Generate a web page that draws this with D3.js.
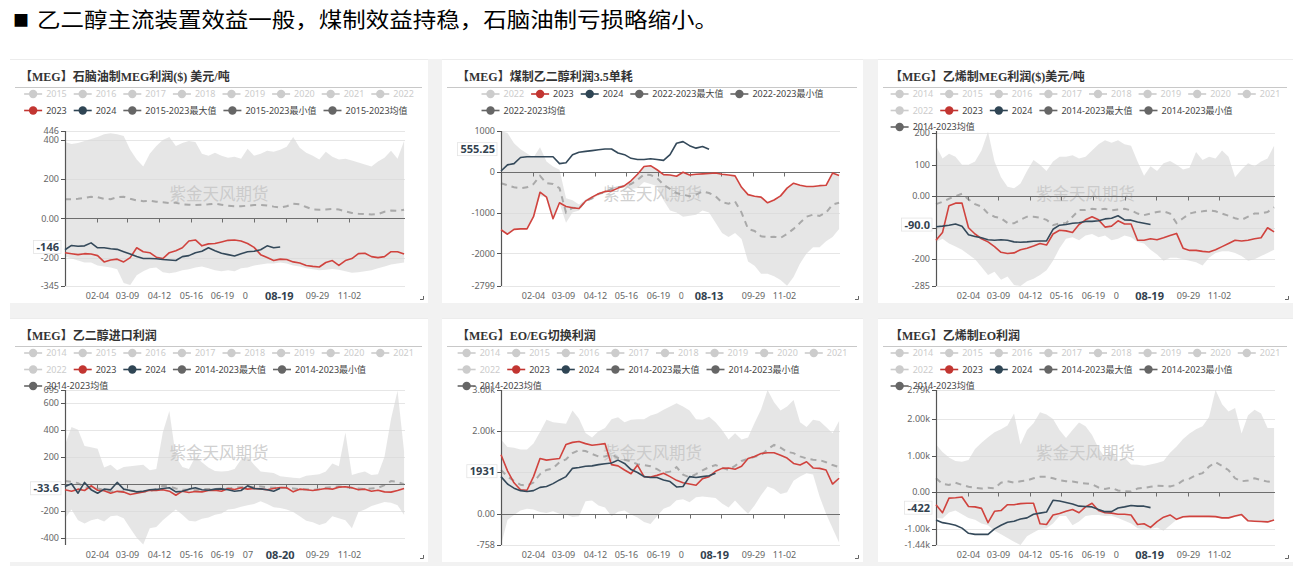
<!DOCTYPE html>
<html lang="zh-CN">
<head>
<meta charset="utf-8">
<title>MEG profit charts</title>
<script src="https://cdn.jsdelivr.net/npm/d3@7"></script>
<style>
html,body{margin:0;padding:0;background:#ffffff;overflow:hidden;}
svg{display:block;}
</style>
</head>
<body>
<svg id="chart" width="1293" height="566"></svg>
<script>
// ---------------- DATA ----------------
const headline = "乙二醇主流装置效益一般，煤制效益持稳，石脑油制亏损略缩小。";
const titles = [
  "【MEG】石脑油制MEG利润($) 美元/吨",
  "【MEG】煤制乙二醇利润3.5单耗",
  "【MEG】乙烯制MEG利润($)美元/吨",
  "【MEG】乙二醇进口利润",
  "【MEG】EO/EG切换利润",
  "【MEG】乙烯制EO利润"
];
const watermark = "紫金天风期货";
// weekly categories (MM-DD), one per week of the year
const categories = d3.range(53).map(i => d3.timeFormat("%m-%d")(d3.timeDay.offset(new Date(2023, 0, 1), 7 * i)));
const xTickLabels = ["02-04", "03-09", "04-12", "05-16", "06-19", "07-23", "08-26", "09-29", "11-02"];

const legendRows1 = [["2015","2016","2017","2018","2019","2020","2021","2022"],
                     ["2023","2024","2015-2023最大值","2015-2023最小值","2015-2023均值"]];
const legendRows2 = [["2022","2023","2024","2022-2023最大值","2022-2023最小值"],
                     ["2022-2023均值"]];
const legendRows3 = [["2014","2015","2016","2017","2018","2019","2020","2021"],
                     ["2022","2023","2024","2014-2023最大值","2014-2023最小值"],
                     ["2014-2023均值"]];
const inactiveNames = ["2014","2015","2016","2017","2018","2019","2020","2021","2022"];

const pointerDates = ["08-19", "08-13", "08-19", "08-20", "08-19", "08-19"];
const pointerValues = [-146, 555.25, -90, -33.6, 1031, -422];
const pointerTexts = ["-146", "555.25", "-90.0", "-33.6", "1931", "-422"];

// Panel 1: naphtha-based MEG profit
const p1Domain = [-345, 446];
const p1Ticks = [446, 400, 200, 0, -200, -345];
const p1TickLabels = ["446", "400", "200", "0.00", "-200", "-345"];
const p1Max = [390,380,385,395,405,415,430,435,430,420,350,300,265,330,370,400,415,370,385,395,390,330,320,335,320,310,315,305,355,320,330,345,340,350,365,415,360,335,320,300,340,315,300,305,295,285,275,265,290,310,345,305,395];
const p1Min = [-195,-205,-215,-225,-225,-240,-245,-250,-260,-330,-340,-290,-270,-255,-250,-275,-280,-275,-265,-260,-250,-245,-255,-265,-270,-265,-270,-255,-250,-240,-235,-230,-230,-225,-230,-240,-245,-255,-260,-265,-262,-258,-262,-270,-278,-275,-270,-265,-255,-245,-235,-230,-225];
const p1Mean = [98,98,100,105,110,108,100,98,108,110,100,92,88,90,85,82,78,80,72,70,68,70,72,75,70,65,62,62,65,68,68,66,60,55,62,75,72,58,46,44,46,48,45,36,28,24,22,20,22,34,40,38,44];
const p1Y2023 = [-175,-180,-185,-180,-182,-190,-222,-212,-208,-222,-200,-150,-170,-175,-198,-205,-175,-165,-150,-115,-110,-140,-130,-128,-120,-112,-110,-115,-128,-148,-185,-200,-215,-208,-210,-222,-228,-240,-245,-248,-225,-215,-240,-215,-205,-180,-178,-195,-200,-195,-170,-170,-182];
const p1Y2024 = [-160,-138,-142,-140,-125,-150,-150,-155,-158,-170,-182,-195,-205,-205,-206,-210,-212,-215,-195,-190,-175,-168,-150,-165,-178,-185,-192,-180,-170,-168,-160,-140,-150,-146];

// Panel 2: coal-based MEG profit
const p2Domain = [-2799, 1000];
const p2Ticks = [1000, 0, -1000, -2000, -2799];
const p2TickLabels = ["1000", "0", "-1000", "-2000", "-2799"];
const p2Max = [1000,950,700,550,450,350,600,250,130,50,-650,-700,-800,-680,-600,-540,-480,-370,-360,-340,-220,-60,130,150,50,-70,-80,-110,-10,-80,-60,-50,-40,-30,-60,-80,-100,-380,-560,-600,-620,-760,-690,-590,-400,-280,-330,-360,-360,-340,-330,-30,-90];
const p2Min = [-1420,-1530,-1410,-1400,-1400,-1100,-600,-620,-1150,-780,-1250,-1000,-950,-730,-680,-560,-520,-420,-400,-380,-420,-400,-250,-300,-350,-700,-950,-1000,-1100,-1080,-1050,-950,-1000,-1250,-1500,-1600,-1500,-1650,-2200,-2300,-2500,-2500,-2560,-2650,-2790,-2580,-2250,-2000,-1850,-1850,-1700,-1600,-1400];
const p2Mean = [-280,-330,-380,-400,-380,-300,-100,-280,-300,-400,-1000,-880,-900,-720,-650,-540,-500,-420,-380,-350,-300,-200,-60,-80,-150,-320,-420,-520,-560,-600,-560,-480,-520,-600,-750,-780,-730,-1000,-1400,-1450,-1580,-1600,-1590,-1620,-1520,-1400,-1250,-1100,-1050,-1080,-1000,-800,-760];
const p2Y2023 = [-1420,-1530,-1410,-1400,-1400,-1100,-500,-620,-1150,-760,-850,-880,-900,-720,-620,-540,-480,-470,-400,-340,-220,-60,130,150,50,-70,-80,-110,-10,-80,-60,-50,-40,-30,-60,-80,-100,-380,-560,-600,-620,-760,-690,-590,-400,-280,-330,-360,-360,-340,-330,-30,-90];
const p2Y2024 = [20,170,200,350,370,370,370,370,370,200,220,420,480,500,520,540,560,560,460,420,330,300,300,320,300,280,420,700,740,640,580,620,555];

// Panel 3: ethylene-based MEG profit
const p3Domain = [-285, 207];
const p3Ticks = [200, 100, 0, -100, -200, -285];
const p3TickLabels = ["200", "100", "0.00", "-100", "-200", "-285"];
const p3Max = [160,120,135,125,100,100,110,145,205,110,60,30,25,40,80,115,100,80,110,125,125,130,120,125,145,165,178,170,178,165,160,110,65,95,80,105,112,100,85,90,140,115,125,120,145,125,60,85,105,95,110,120,160];
const p3Min = [-145,-135,-150,-160,-170,-185,-200,-225,-250,-240,-265,-255,-282,-285,-270,-262,-250,-235,-205,-165,-135,-130,-140,-125,-120,-130,-125,-140,-135,-125,-130,-145,-150,-170,-185,-205,-195,-195,-200,-205,-210,-220,-195,-180,-175,-175,-180,-190,-205,-200,-190,-180,-170];
const p3Mean = [-25,-18,-8,0,8,-10,-25,-33,-55,-65,-70,-85,-86,-75,-65,-65,-68,-75,-92,-86,-86,-65,-44,-44,-40,-42,-40,-45,-42,-40,-45,-55,-60,-55,-50,-48,-55,-85,-70,-55,-50,-48,-45,-48,-55,-62,-70,-75,-65,-55,-55,-50,-35];
const p3Y2023 = [-140,-115,-30,-22,-22,-100,-120,-135,-145,-160,-178,-182,-180,-170,-165,-158,-150,-155,-120,-108,-110,-115,-90,-75,-65,-75,-98,-95,-78,-88,-88,-140,-140,-135,-138,-132,-125,-118,-165,-172,-172,-175,-177,-170,-160,-150,-140,-142,-140,-135,-132,-100,-113];
const p3Y2024 = [-97,-95,-92,-88,-95,-122,-128,-132,-138,-140,-138,-140,-145,-146,-145,-143,-142,-142,-105,-92,-90,-86,-84,-80,-80,-78,-72,-70,-62,-75,-76,-82,-86,-90];

// Panel 4: MEG import profit
const p4Domain = [-454, 695];
const p4Ticks = [695, 600, 400, 200, 0, -200, -400];
const p4TickLabels = ["695", "600", "400", "200", "0", "-200", "-400"];
const p4Max = [290,420,400,280,270,260,120,140,100,125,130,135,140,100,110,380,540,200,125,110,200,160,120,95,90,95,110,180,200,140,90,85,80,55,50,45,40,60,65,70,90,150,130,380,65,80,90,65,70,200,480,690,240];
const p4Min = [-255,-190,-270,-295,-270,-260,-280,-240,-235,-255,-330,-400,-450,-330,-320,-270,-230,-190,-230,-275,-280,-260,-250,-230,-220,-190,-185,-170,-160,-150,-130,-150,-175,-180,-190,-210,-240,-275,-285,-305,-290,-240,-255,-270,-330,-210,-190,-165,-150,-135,-140,-160,-230];
const p4Mean = [20,15,5,-25,-35,-35,-45,-55,-60,-55,-50,-55,-60,-55,-40,-15,-20,-35,-45,-45,-48,-40,-38,-40,-35,-35,-30,-25,-20,-25,-20,-25,-30,-30,-30,-35,-40,-40,-45,-40,-30,-25,-20,-25,-30,-35,-40,-35,-30,-10,20,15,-5];
const p4Y2023 = [-45,-55,-40,-50,-15,-48,-52,-70,-55,-62,-80,-70,-60,-48,-50,-45,-55,-85,-55,-65,-58,-60,-50,-48,-55,-35,-42,-30,-40,-35,-38,-45,-35,-28,-30,-60,-40,-45,-50,-42,-35,-40,-25,-22,-30,-45,-40,-55,-48,-60,-62,-50,-35];
const p4Y2024 = [-20,0,-70,10,-45,-70,-40,-45,10,-40,-50,-60,-55,-45,-42,-35,-30,-60,-55,-40,-30,-45,-48,-40,-38,-45,-55,-50,-15,-35,-38,-45,-55,-34];

// Panel 5: EO/EG switching profit
const p5Domain = [-758, 3000];
const p5Ticks = [3000, 2000, 1000, 0, -758];
const p5TickLabels = ["3.00k", "2.00k", "1.00k", "0.00", "-758"];
const p5Max = [1800,1620,1600,1560,1560,1700,1980,2280,2220,2200,2180,2500,2300,1960,1850,2000,2080,2290,2340,2220,2280,2290,2290,2380,2430,2520,2600,2680,2600,2500,2290,2280,2350,2220,2030,1800,1950,1800,1850,2200,2530,3000,2700,2500,2600,2760,2220,2100,2280,2250,2100,1950,2250];
const p5Min = [-758,-150,-30,80,120,100,40,20,60,0,-20,-80,-60,300,320,200,150,-60,50,80,-20,-90,-200,-250,-60,120,180,330,350,280,400,420,400,380,250,150,320,150,0,200,450,660,600,480,520,800,900,980,950,420,0,-350,-700];
const p5Mean = [1060,900,800,700,680,760,960,1060,1100,1250,1320,1470,1540,1520,1450,1390,1390,1440,1350,1310,1270,1200,1180,1150,1080,990,1020,1130,950,880,960,1050,1130,1180,1120,1060,1160,1280,1330,1380,1420,1560,1670,1600,1500,1470,1390,1340,1310,1300,1250,1180,1130];
const p5Y2023 = [1430,1040,750,580,570,900,1340,1300,1320,1340,1680,1730,1750,1700,1660,1680,1700,1190,1160,1060,970,1180,900,890,930,980,900,810,750,720,690,850,900,1030,1100,1110,1080,1150,1340,1390,1460,1480,1480,1420,1350,1220,1180,1260,1110,1100,1060,720,860];
const p5Y2024 = [900,720,620,560,540,560,640,660,730,820,900,1100,1120,1150,1160,1190,1210,1230,1300,1220,1070,1000,900,880,880,820,780,650,660,900,880,900,920,980];

// Panel 6: ethylene-based EO profit
const p6Domain = [-1440, 2790];
const p6Ticks = [2790, 2000, 1000, 0, -1000, -1440];
const p6TickLabels = ["2.79k", "2.00k", "1.00k", "0.00", "-1.00k", "-1.44k"];
const p6Max = [1300,1100,950,850,830,880,1180,1350,1500,1640,1720,1820,2150,1300,1700,1880,2180,2120,2000,1700,1480,1700,1900,1800,1560,1200,950,1150,850,950,760,750,720,760,800,850,1080,1250,1450,1600,1720,1800,2050,2790,2400,2200,2300,1600,2100,2250,2150,1750,1750];
const p6Min = [-700,-720,-550,-500,-600,-700,-750,-850,-900,-1050,-1150,-1250,-1350,-1440,-1200,-1100,-1000,-980,-850,-650,-650,-900,-800,-650,-620,-620,-650,-640,-700,-780,-850,-980,-1000,-1000,-960,-1050,-900,-750,-700,-680,-680,-680,-690,-680,-720,-720,-680,-650,-800,-810,-820,-830,-780];
const p6Mean = [380,230,200,260,200,150,120,100,120,110,260,300,260,300,320,380,420,420,380,330,300,290,260,240,220,130,90,120,50,30,20,100,120,150,180,170,160,200,320,370,470,520,700,820,720,600,380,300,320,380,330,290,270];
const p6Y2023 = [-340,-560,-160,-150,-130,-390,-400,-440,-830,-520,-500,-340,-340,-310,-300,-300,-860,-880,-620,-580,-520,-470,-560,-400,-300,-500,-560,-570,-600,-600,-620,-880,-860,-960,-800,-680,-620,-740,-670,-660,-660,-660,-660,-665,-700,-700,-650,-610,-780,-790,-800,-810,-760];
const p6Y2024 = [-760,-830,-860,-900,-980,-1120,-1150,-1150,-1150,-1000,-900,-820,-790,-730,-700,-600,-570,-540,-220,-240,-280,-320,-380,-390,-400,-470,-530,-530,-430,-400,-360,-380,-380,-420];

// ---------------- PANEL TABLE ----------------
const panels = [
  {domain:p1Domain, ticks:p1Ticks, labels:p1TickLabels, max:p1Max, min:p1Min, mean:p1Mean, s23:p1Y2023, s24:p1Y2024, legend:legendRows1},
  {domain:p2Domain, ticks:p2Ticks, labels:p2TickLabels, max:p2Max, min:p2Min, mean:p2Mean, s23:p2Y2023, s24:p2Y2024, legend:legendRows2},
  {domain:p3Domain, ticks:p3Ticks, labels:p3TickLabels, max:p3Max, min:p3Min, mean:p3Mean, s23:p3Y2023, s24:p3Y2024, legend:legendRows3},
  {domain:p4Domain, ticks:p4Ticks, labels:p4TickLabels, max:p4Max, min:p4Min, mean:p4Mean, s23:p4Y2023, s24:p4Y2024, legend:legendRows3},
  {domain:p5Domain, ticks:p5Ticks, labels:p5TickLabels, max:p5Max, min:p5Min, mean:p5Mean, s23:p5Y2023, s24:p5Y2024, legend:legendRows3},
  {domain:p6Domain, ticks:p6Ticks, labels:p6TickLabels, max:p6Max, min:p6Min, mean:p6Mean, s23:p6Y2023, s24:p6Y2024, legend:legendRows3}
];

// ---------------- LAYOUT ----------------
const W = 1293, H = 566;
const colX = [10, 442, 878], colW = [418, 421, 415];
const plotL = [65, 501, 936], plotR = [405, 840, 1275];
const titleOff = [10, 15, 12];
const rowY = [59, 318], rowH = 244;
const plotT = [131, 390], plotB = [286, 545];

const C23 = "#d0433e", C24 = "#34495a", CMEAN = "#a9a9a9", CBAND = "#d9d9d9";
const LEG_ACTIVE_TEXT = "#444", LEG_INACTIVE = "#cccccc";
const FONT = "'Noto Sans', 'Noto Sans CJK SC', sans-serif";
const TFONT = "'Liberation Serif', 'Noto Sans CJK SC', serif";

const svg = d3.select("#chart");
const parseMD = s => { const p = s.split("-").map(Number); return new Date(2023, p[0] - 1, p[1]); };
const catDates = categories.map(parseMD);

// background gaps
svg.append("rect").attr("x", 0).attr("y", 0).attr("width", W).attr("height", H).attr("fill", "#fff");
svg.append("rect").attr("x", 10).attr("y", 59).attr("width", W - 10).attr("height", H - 59).attr("fill", "#f2f2f2");

// headline
svg.append("text").attr("x", 13).attr("y", 26).attr("font-family", "'Noto Sans CJK SC', sans-serif")
  .attr("font-size", 16).attr("fill", "#000").text("■");
svg.append("text").attr("x", 37).attr("y", 27).attr("font-family", "'Noto Sans CJK SC', sans-serif")
  .attr("font-size", 21).attr("fill", "#000").attr("textLength", 681).attr("lengthAdjust", "spacingAndGlyphs")
  .text(headline);

function legendColor(name) {
  if (inactiveNames.includes(name)) return LEG_INACTIVE;
  if (name === "2023") return "#c23531";
  if (name === "2024") return "#2f4554";
  return "#666";
}

panels.forEach((p, k) => {
  const c = k % 3, r = Math.floor(k / 3);
  const px = colX[c], pw = colW[c], py = rowY[r];
  const X0 = plotL[c], X1 = plotR[c], T = plotT[r], B = plotB[r];
  const g = svg.append("g");

  // panel
  g.append("rect").attr("x", px).attr("y", py).attr("width", pw).attr("height", rowH).attr("fill", "#fff");
  g.append("line").attr("x1", px).attr("x2", px + pw).attr("y1", py + 0.5).attr("y2", py + 0.5).attr("stroke", "#ececec");

  // title
  g.append("text").attr("x", px + titleOff[c]).attr("y", py + 22).attr("font-family", TFONT)
    .attr("font-weight", "bold").attr("font-size", 12).attr("fill", "#333").text(titles[k]);
  g.append("line").attr("x1", px + 5).attr("x2", px + pw - 6).attr("y1", py + 28.5).attr("y2", py + 28.5)
    .attr("stroke", "#c8c8c8").attr("stroke-width", 1);

  const x = d3.scaleTime().domain([new Date(2023, 0, 1), new Date(2024, 0, 1)]).range([X0, X1]);
  const y = d3.scaleLinear().domain(p.domain).range([B, T]);
  const ptrY = y(pointerValues[k]);

  // grid lines
  p.ticks.forEach(v => {
    if (v === 0) return;
    g.append("line").attr("x1", X0).attr("x2", X1).attr("y1", Math.round(y(v)) + 0.5).attr("y2", Math.round(y(v)) + 0.5)
      .attr("stroke", "#e6e6e6").attr("stroke-width", 1);
  });

  // band
  const area = d3.area().x((d, i) => x(catDates[i])).y0((d, i) => y(p.min[i])).y1((d, i) => y(p.max[i]));
  g.append("path").datum(p.max).attr("d", area).attr("fill", CBAND).attr("fill-opacity", 0.65);

  // watermark
  g.append("text").attr("x", px + pw / 2).attr("y", py + 141).attr("text-anchor", "middle")
    .attr("font-family", "'Noto Sans CJK SC', sans-serif").attr("font-size", 16.5).attr("fill", "#c4c4c4")
    .attr("fill-opacity", 0.8).text(watermark);

  // mean dashed
  const line = arr => d3.line().x((d, i) => x(catDates[i])).y(d => y(d))(arr);
  g.append("path").attr("d", line(p.mean)).attr("fill", "none").attr("stroke", CMEAN)
    .attr("stroke-width", 2).attr("stroke-dasharray", "6,5");

  // axes
  const y0 = Math.round(y(0)) + 0.5;
  g.append("line").attr("x1", X0).attr("x2", X1).attr("y1", y0).attr("y2", y0).attr("stroke", "#6e6e6e").attr("stroke-width", 1.2);
  g.append("line").attr("x1", X0 + 0.5).attr("x2", X0 + 0.5).attr("y1", T).attr("y2", B).attr("stroke", "#555").attr("stroke-width", 1.2);
  p.ticks.forEach((v, i) => {
    const yy = Math.round(y(v)) + 0.5;
    g.append("line").attr("x1", X0 - 4).attr("x2", X0).attr("y1", yy).attr("y2", yy).attr("stroke", "#555");
    if (Math.abs(y(v) - ptrY) < 9) return; // hidden under the axis-pointer label
    g.append("text").attr("x", X0 - 6).attr("y", y(v) + 3.2).attr("text-anchor", "end")
      .attr("font-family", FONT).attr("font-size", 9).attr("fill", "#666").text(p.labels[i]);
  });

  // x pointer label geometry
  const pxX = x(parseMD(pointerDates[k]));
  const probe = g.append("text").attr("font-family", FONT).attr("font-weight", "bold").attr("font-size", 11).text(pointerDates[k]);
  const xw = probe.node().getComputedTextLength();
  probe.remove();
  const boxL = pxX - xw / 2 - 11, boxR = pxX + xw / 2 + 11;

  xTickLabels.forEach(lbl => {
    const xx = Math.round(x(parseMD(lbl))) + 0.5;
    g.append("line").attr("x1", xx).attr("x2", xx).attr("y1", y0).attr("y2", y0 + 4).attr("stroke", "#6e6e6e");
    const t = g.append("text").attr("x", xx).attr("y", py + 240).attr("text-anchor", "middle")
      .attr("font-family", FONT).attr("font-size", 9).attr("fill", "#666").text(lbl);
    const w = t.node().getComputedTextLength();
    const l = xx - w / 2, rr = xx + w / 2;
    if (l >= boxL && rr <= boxR) { t.remove(); return; }          // fully covered
    if (l < boxL && rr > boxL) {                                   // partly covered: keep visible part
      t.attr("text-anchor", "start").attr("x", l);
      let s = lbl;
      while (s.length > 1 && l + t.node().getComputedTextLength() > boxL - 1) { s = s.slice(0, -1); t.text(s); }
    }
  });

  // series lines
  g.append("path").attr("d", line(p.s23)).attr("fill", "none").attr("stroke", C23).attr("stroke-width", 1.6).attr("stroke-linejoin", "round");
  g.append("path").attr("d", line(p.s24)).attr("fill", "none").attr("stroke", C24).attr("stroke-width", 1.6).attr("stroke-linejoin", "round");

  // legend
  const lg = g.append("g");
  const rowsInfo = p.legend.map((row, ri) => {
    const rg = lg.append("g");
    let cx = 0;
    row.forEach(name => {
      const col = legendColor(name);
      rg.append("line").attr("x1", cx).attr("x2", cx + 18).attr("y1", 0).attr("y2", 0).attr("stroke", col).attr("stroke-width", 1.6);
      rg.append("circle").attr("cx", cx + 9).attr("cy", 0).attr("r", 4.2).attr("fill", col);
      const t = rg.append("text").attr("x", cx + 22).attr("y", 3.2).attr("font-family", FONT).attr("font-size", 9)
        .attr("fill", inactiveNames.includes(name) ? LEG_INACTIVE : LEG_ACTIVE_TEXT).text(name);
      cx += 22 + t.node().getComputedTextLength() + 7;
    });
    return {rg, w: cx - 7};
  });
  const bw = d3.max(rowsInfo, d => d.w);
  const left = px + pw / 2 - bw / 2;
  rowsInfo.forEach((d, ri) => d.rg.attr("transform", `translate(${left},${py + 35 + ri * 16.5})`));

  // axis pointer labels
  g.append("rect").attr("x", boxL).attr("y", py + 230).attr("width", boxR - boxL).attr("height", 14).attr("fill", "#fff");
  g.append("text").attr("x", pxX).attr("y", py + 241).attr("text-anchor", "middle")
    .attr("font-family", FONT).attr("font-weight", "bold").attr("font-size", 11).attr("fill", "#33424f").text(pointerDates[k]);

  const yt = g.append("text").attr("x", X0 - 6).attr("y", ptrY + 4).attr("text-anchor", "end")
    .attr("font-family", FONT).attr("font-weight", "bold").attr("font-size", 11).attr("fill", "#33424f").text(pointerTexts[k]);
  const yw = yt.node().getComputedTextLength();
  g.insert("rect", () => yt.node()).attr("x", X0 - 6 - yw - 3).attr("y", ptrY - 6.5).attr("width", yw + 5).attr("height", 13)
    .attr("fill", "#fff").attr("stroke", "#e4e4e4").attr("stroke-width", 0.8);

  // resize corner mark
  g.append("path").attr("d", `M${px + pw - 8},${py + rowH - 3.5} H${px + pw - 4.5} V${py + rowH - 7}`)
    .attr("fill", "none").attr("stroke", "#666").attr("stroke-width", 1);
});
</script>
</body>
</html>
